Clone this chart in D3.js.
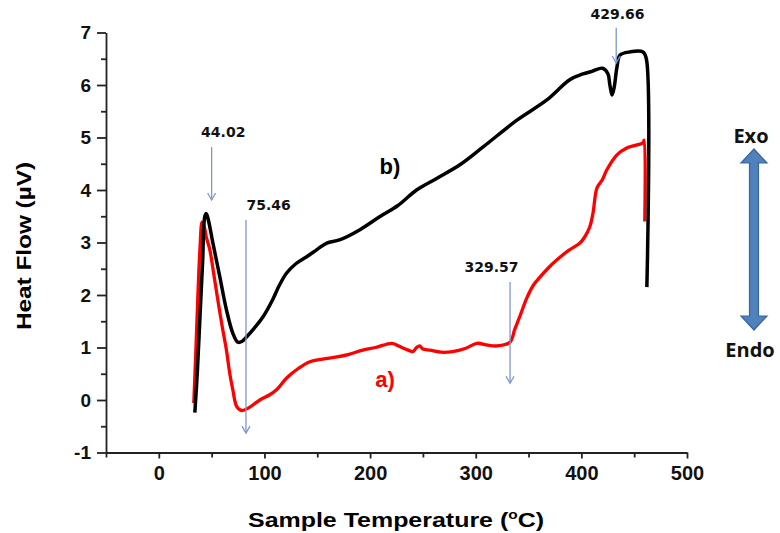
<!DOCTYPE html>
<html>
<head>
<meta charset="utf-8">
<script src="https://cdn.jsdelivr.net/npm/d3@7"></script>
<style>
  body { margin: 0; background: #fff; }
  svg { display: block; }
  .tick text { font-family: "Liberation Sans", Arial, sans-serif; font-weight: bold; fill: #111; }
</style>
</head>
<body>
<svg width="780" height="533"></svg>
<script>
// DSC curves: a) red, b) black

var tempB = [34.1, 36.5, 39, 41.5, 43.6, 45, 47, 51.1, 57.8, 64.1, 70.1, 74.8, 79, 83, 90, 98.5, 108, 114, 121, 130, 140, 150, 159, 171, 190, 209, 226, 244, 263, 285, 307, 339, 367, 389, 401.5, 410, 420, 425, 427, 429, 431, 433.7, 436.6, 446, 458.3, 461.5, 462];
var flowB = [-0.24, 0.55, 1.6, 2.65, 3.5, 3.55, 3.42, 3.0, 2.34, 1.71, 1.27, 1.1, 1.12, 1.2, 1.36, 1.58, 1.92, 2.18, 2.42, 2.6, 2.73, 2.87, 2.99, 3.05, 3.24, 3.49, 3.7, 4.0, 4.22, 4.48, 4.82, 5.33, 5.71, 6.1, 6.21, 6.26, 6.32, 6.22, 6.0, 5.81, 5.95, 6.34, 6.57, 6.63, 6.63, 6.5, 2.15];

var tempA = [33.1, 35, 37, 39, 41, 43, 45, 48.3, 52, 55.9, 60, 64, 67.2, 70, 73.9, 78.6, 85, 95.6, 105, 111.7, 121, 132, 143, 155, 168.6, 180, 193, 205, 220.6, 226, 231, 236, 240.5, 244, 247, 250, 256.6, 267, 278, 290, 301, 310, 320, 332.4, 337, 341.9, 348.5, 355, 360.8, 368, 376.9, 388, 398.7, 403, 408, 411, 414.8, 420, 424, 433.7, 443, 458.3, 459.5, 460];
var flowA = [-0.06, 0.9, 2.0, 2.9, 3.39, 3.3, 3.1, 2.86, 2.4, 1.9, 1.4, 0.95, 0.5, 0.2, -0.13, -0.2, -0.15, 0.0, 0.1, 0.2, 0.42, 0.6, 0.73, 0.78, 0.82, 0.87, 0.95, 1.0, 1.08, 1.04, 0.99, 0.95, 0.92, 1.0, 1.03, 0.97, 0.95, 0.91, 0.92, 0.98, 1.08, 1.05, 1.03, 1.1, 1.35, 1.6, 1.95, 2.2, 2.34, 2.5, 2.67, 2.85, 2.99, 3.1, 3.3, 3.56, 4.04, 4.2, 4.38, 4.67, 4.8, 4.9, 4.95, 3.4];

var xTicks = [0, 100, 200, 300, 400, 500];
var yTicks = [-1, 0, 1, 2, 3, 4, 5, 6, 7];

// peak markers: label, arrow temperature, arrow from/to (heat flow), label temperature/level
var peakLabels = ["44.02", "75.46", "329.57", "429.66"];
var peakTemp   = [50, 82.5, 332.5, 433];
var peakFrom   = [4.82, 3.43, 2.25, 7.09];
var peakTo     = [3.81, -0.63, 0.32, 6.42];
var labelTemp  = [61, 104, 315, 434.2];
var labelFlow  = [5.01, 3.62, 2.44, 7.25];

var svg = d3.select("svg");

var x = d3.scaleLinear().domain([-50, 500]).range([106, 687]);
var y = d3.scaleLinear().domain([-1, 7]).range([452.5, 32.5]);

var plainFmt = d => String(d);

// minor ticks
svg.append("g")
	.attr("transform", "translate(0," + y(-1) + ")")
	.call(d3.axisBottom(x).tickValues(d3.range(-50, 500, 100)).tickSize(5).tickFormat(""))
	.call(g => g.select(".domain").remove())
	.selectAll("line").attr("stroke", "#222").attr("stroke-width", 1.6);

svg.append("g")
	.attr("transform", "translate(" + x(-50) + ",0)")
	.call(d3.axisLeft(y).tickValues(d3.range(-0.5, 7, 1)).tickSize(5).tickFormat(""))
	.call(g => g.select(".domain").remove())
	.selectAll("line").attr("stroke", "#222").attr("stroke-width", 1.6);

// major axes
var xAxis = svg.append("g")
	.attr("transform", "translate(0," + y(-1) + ")")
	.call(d3.axisBottom(x).tickValues(xTicks).tickFormat(plainFmt).tickSize(6).tickSizeOuter(0).tickPadding(7));
xAxis.selectAll("text").style("font-size", "20px");

var yAxis = svg.append("g")
	.attr("transform", "translate(" + x(-50) + ",0)")
	.call(d3.axisLeft(y).tickValues(yTicks).tickFormat(plainFmt).tickSize(9).tickSizeOuter(0).tickPadding(6));
yAxis.selectAll("text").style("font-size", "19px");

svg.selectAll(".domain, .tick line").attr("stroke", "#222").attr("stroke-width", 1.8);

// axis titles
svg.append("text")
	.attr("x", 248).attr("y", 527)
	.attr("textLength", 296).attr("lengthAdjust", "spacingAndGlyphs")
	.style("font-family", "Liberation Sans, Arial, sans-serif")
	.style("font-weight", "bold").style("font-size", "21px")
	.html('Sample Temperature (<tspan dy="-8" font-size="13px">o</tspan><tspan dy="8">C)</tspan>');

svg.append("text")
	.attr("transform", "translate(31,330) rotate(-90)")
	.attr("textLength", 168).attr("lengthAdjust", "spacingAndGlyphs")
	.style("font-family", "Liberation Sans, Arial, sans-serif")
	.style("font-weight", "bold").style("font-size", "20px")
	.text("Heat Flow (\u00b5V)");

// curves
var line = d3.line().x(d => x(d[0])).y(d => y(d[1])).curve(d3.curveCatmullRom.alpha(0.5));

svg.append("path")
	.datum(d3.zip(tempA, flowA))
	.attr("d", line)
	.attr("fill", "none").attr("stroke", "#ff0000").attr("stroke-width", 3.3)
	.attr("stroke-linejoin", "round");

svg.append("path")
	.datum(d3.zip(tempB, flowB))
	.attr("d", line)
	.attr("fill", "none").attr("stroke", "#000").attr("stroke-width", 3.5)
	.attr("stroke-linejoin", "round");

// curve labels
svg.append("text").attr("x", x(209)).attr("y", y(4.3))
	.style("font-family", "Liberation Sans, Arial, sans-serif")
	.style("font-weight", "bold").style("font-size", "22px").attr("fill", "#000")
	.text("b)");
svg.append("text").attr("x", x(205)).attr("y", y(0.25))
	.style("font-family", "Liberation Sans, Arial, sans-serif")
	.style("font-weight", "bold").style("font-size", "22px").attr("fill", "#ff0000")
	.text("a)");

// peak arrows
var arrowColor = "#7d98cc";
peakLabels.forEach(function(lbl, i) {
	var ax = x(peakTemp[i]), y0 = y(peakFrom[i]), y1 = y(peakTo[i]);
	svg.append("line")
		.attr("x1", ax).attr("x2", ax).attr("y1", y0).attr("y2", y1)
		.attr("stroke", arrowColor).attr("stroke-width", 1.3);
	svg.append("path")
		.attr("d", "M" + (ax - 4) + "," + (y1 - 7) + "L" + ax + "," + y1 + "L" + (ax + 4) + "," + (y1 - 7))
		.attr("fill", "none").attr("stroke", arrowColor).attr("stroke-width", 1.3);
	svg.append("text")
		.attr("x", x(labelTemp[i])).attr("y", y(labelFlow[i]))
		.attr("text-anchor", "middle")
		.style("font-family", "DejaVu Sans, Verdana, sans-serif")
		.style("font-weight", "bold").style("font-size", "14px").attr("fill", "#111")
		.text(lbl);
});

// Exo / Endo double arrow
var ax0 = 754, aTop = 149, aBot = 330, sw = 4.5, hw = 13, hh = 14;
svg.append("path")
	.attr("d", [
		"M", ax0, aTop, "L", ax0 + hw, aTop + hh, "L", ax0 + sw, aTop + hh,
		"L", ax0 + sw, aBot - hh, "L", ax0 + hw, aBot - hh, "L", ax0, aBot,
		"L", ax0 - hw, aBot - hh, "L", ax0 - sw, aBot - hh, "L", ax0 - sw, aTop + hh,
		"L", ax0 - hw, aTop + hh, "Z"].join(" "))
	.attr("fill", "#4f81bd").attr("stroke", "#3a659a").attr("stroke-width", 1.2);

svg.append("text").attr("x", 751).attr("y", 143).attr("text-anchor", "middle")
	.style("font-family", "Open Sans, sans-serif").style("font-weight", "bold").style("font-size", "20px")
	.attr("fill", "#111").text("Exo");
svg.append("text").attr("x", 750).attr("y", 357).attr("text-anchor", "middle")
	.style("font-family", "Open Sans, sans-serif").style("font-weight", "bold").style("font-size", "20px")
	.attr("fill", "#111").text("Endo");
</script>
</body>
</html>
